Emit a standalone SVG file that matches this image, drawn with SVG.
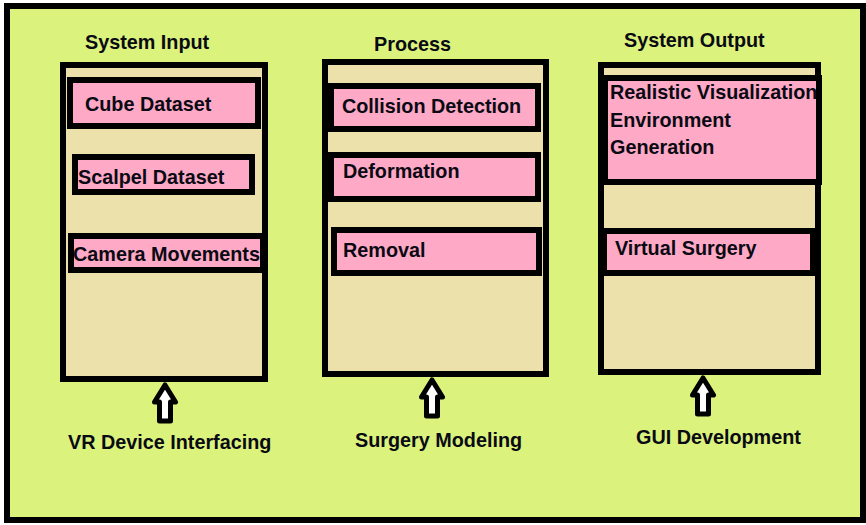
<svg xmlns="http://www.w3.org/2000/svg" width="866" height="525" viewBox="0 0 866 525">
<defs>
<style>
.frame{fill:#DBF37D;stroke:#000;stroke-width:6}
.col{fill:#EDE1AB;stroke:#000;stroke-width:6}
.item{fill:#FEA9C5;stroke:#000;stroke-width:6}
.t{font-family:"Liberation Sans",Arial,sans-serif;font-weight:bold;font-size:19.8px;fill:#0a0a14}
.arr{fill:#fff;stroke:#000;stroke-width:5;stroke-linejoin:round}
</style>
<clipPath id="c1"><rect x="74" y="239" width="186" height="28"/></clipPath>
<clipPath id="c3"><rect x="608" y="81" width="208" height="98"/></clipPath>
<path id="up" d="M0,0 L10.5,17 L5.5,17 L5.5,36 L-5.5,36 L-5.5,17 L-10.5,17 Z"/>
</defs>
<rect class="frame" x="7" y="6" width="856" height="514"/>

<g id="input">
<text class="t" x="85" y="49">System Input</text>
<rect class="col" x="63" y="65" width="202" height="314"/>
<g id="cube"><rect class="item" x="70" y="80" width="188" height="46"/><text class="t" x="85" y="111">Cube Dataset</text></g>
<g id="scalpel"><rect class="item" x="75" y="157" width="177" height="35"/><text class="t" x="78" y="184">Scalpel Dataset</text></g>
<g id="camera"><rect class="item" x="71" y="236" width="192" height="34"/><text class="t" x="73" y="261" clip-path="url(#c1)">Camera Movements</text></g>
</g>

<g id="process">
<text class="t" x="374" y="51">Process</text>
<rect class="col" x="325" y="62" width="221" height="312"/>
<g id="collision"><rect class="item" x="331" y="86" width="207" height="43"/><text class="t" x="342" y="113">Collision Detection</text></g>
<g id="deformation"><rect class="item" x="331" y="155" width="207" height="44"/><text class="t" x="343" y="178">Deformation</text></g>
<g id="removal"><rect class="item" x="334" y="230" width="205" height="43"/><text class="t" x="343" y="257">Removal</text></g>
</g>

<g id="output">
<text class="t" x="624" y="47">System Output</text>
<rect class="col" x="601" y="65" width="217" height="307"/>
<g id="realistic"><rect class="item" x="605" y="78" width="214" height="104"/>
<text class="t" clip-path="url(#c3)"><tspan x="610" y="99">Realistic Visualization</tspan><tspan x="610" y="127">Environment</tspan><tspan x="610" y="154">Generation</tspan></text></g>
<g id="virtual"><rect class="item" x="604" y="231" width="209" height="42"/><text class="t" x="615" y="255">Virtual Surgery</text></g>
</g>

<g id="connectors">
<use href="#up" class="arr" x="165" y="385"/>
<use href="#up" class="arr" x="432" y="380"/>
<use href="#up" class="arr" x="703" y="378"/>
</g>

<g id="labels">
<text class="t" x="68" y="449">VR Device Interfacing</text>
<text class="t" x="355" y="447">Surgery Modeling</text>
<text class="t" x="636" y="444">GUI Development</text>
</g>
</svg>
